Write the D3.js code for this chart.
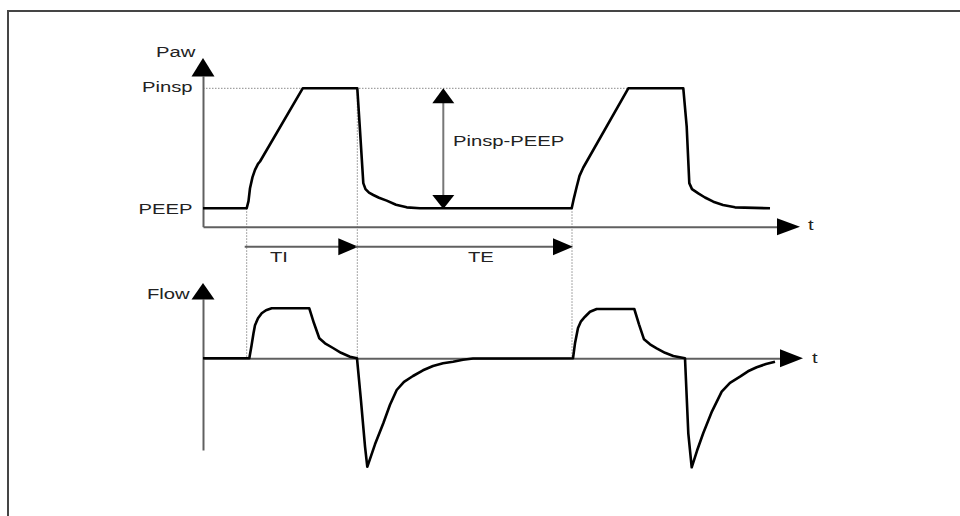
<!DOCTYPE html>
<html>
<head>
<meta charset="utf-8">
<script src="https://cdn.jsdelivr.net/npm/d3@7"></script>
<style>
  html, body { margin: 0; padding: 0; background: #fff; }
  svg { display: block; }
  text { font-family: "Liberation Sans", Arial, sans-serif; font-size: 15px; fill: #222; }
</style>
</head>
<body>
<svg id="chart" width="960" height="516"></svg>
<script>
// ---------------- data (time in arbitrary units, pressure 0=PEEP 1=Pinsp, flow 1=peak insp) ----
const pawTime  = [0, 43.7, 45.5, 47, 49.5, 52, 55, 57, 99.7, 154.3, 157, 160.3, 162.5, 166, 170.3, 176, 183.7, 193, 203.7, 217,
                  368.7, 370.5, 373.7, 376.5, 380.3, 425.3, 480.3, 483.7, 486.3, 489, 495.3, 502, 510.3, 520, 532, 567];
const pawValue = [0, 0, 0.06, 0.167, 0.26, 0.32, 0.37, 0.39, 1, 1, 0.65, 0.21, 0.16, 0.13, 0.111, 0.088, 0.064, 0.03, 0.008, 0,
                  0, 0.07, 0.18, 0.27, 0.34, 1, 1, 0.68, 0.21, 0.16, 0.125, 0.09, 0.055, 0.028, 0.008, 0];

const flowTime  = [0, 46.3, 48.5, 50.5, 52, 55, 58.7, 63, 68.7, 106.3, 111, 116.3, 122, 130, 138, 147, 154,
                   158, 162, 164.3, 172, 180.3, 187, 193.7, 201, 210, 220, 230, 240, 250, 260, 270, 370,
                   372, 375, 378, 382, 387, 393.7, 431.3, 436, 441, 447, 453.7, 462, 470.3, 482,
                   485.3, 488.7, 494, 500.3, 509, 518.7, 527, 537, 545, 553.7, 563, 572];
const flowValue = [0, 0, 0.25, 0.5, 0.66, 0.8, 0.9, 0.96, 1, 1, 0.7, 0.4, 0.3, 0.206, 0.11, 0.032, 0,
                   -0.85, -1.76, -2.17, -1.72, -1.3, -0.93, -0.634, -0.47, -0.354, -0.24, -0.154, -0.1, -0.068, -0.03, -0.004, 0,
                   0.3, 0.606, 0.74, 0.832, 0.93, 0.986, 0.986, 0.68, 0.38, 0.28, 0.2, 0.11, 0.046, 0,
                   -1.5, -2.18, -1.85, -1.494, -1.06, -0.668, -0.49, -0.368, -0.26, -0.18, -0.115, -0.068];

const pawTickValues = [0, 1];
const pawTickLabels = ["PEEP", "Pinsp"];
const phaseNames  = ["TI", "TE"];
const phaseStart  = [43.7, 154.3];
const phaseEnd    = [154.3, 369];

// ---------------- layout ----------------
const svg = d3.select("#chart");
const SX = 1.35; // horizontal stretch of the original typography

const x  = d3.scaleLinear().domain([0, 600]).range([203, 803]);
const yP = d3.scaleLinear().domain([0, 1]).range([208.3, 88.3]);
const yF = d3.scaleLinear().domain([0, 1]).range([358.3, 308.3]);

const axisColor = "#606060";

// frame
svg.append("rect").attr("x", 8).attr("y", 11).attr("width", 1000).attr("height", 600)
  .attr("fill", "none").attr("stroke", "#454545").attr("stroke-width", 2);

function stretch(sel, anchor) {
  sel.each(function () {
    const t = d3.select(this);
    const xv = +t.attr("x") || 0;
    t.attr("x", xv / SX).attr("transform", `scale(${SX},1)`).attr("text-anchor", anchor);
  });
}
function label(txt, px, py, anchor) {
  svg.append("text").attr("transform", `translate(${px},${py}) scale(${SX},1)`)
    .attr("text-anchor", anchor || "start").text(txt);
}
function tri(tip, dir, len, half, color) {
  const [tx, ty] = tip;
  let pts;
  if (dir === "up")    pts = [[tx, ty], [tx - half, ty + len], [tx + half, ty + len]];
  if (dir === "down")  pts = [[tx, ty], [tx - half, ty - len], [tx + half, ty - len]];
  if (dir === "right") pts = [[tx, ty], [tx - len, ty - half], [tx - len, ty + half]];
  svg.append("path").attr("d", "M" + pts.map(p => p.join(",")).join("L") + "Z")
    .attr("fill", color || "#000");
}

// ---------------- guide (dotted) lines ----------------
const dotted = g => g.attr("stroke", "#8a8a8a").attr("stroke-width", 1).attr("stroke-dasharray", "1.5,1.5").attr("fill", "none");
svg.append("line").attr("x1", x(0)).attr("x2", x(425.3)).attr("y1", yP(1)).attr("y2", yP(1)).call(dotted);
[[43.7, 0], [154.3, 1], [369, 0]].forEach(([t, v]) => {
  svg.append("line").attr("x1", x(t)).attr("x2", x(t)).attr("y1", yP(v)).attr("y2", yF(0)).call(dotted);
});

// ---------------- Paw axes ----------------
const yPAxisScale = yP.copy().domain([yP.invert(226.7), yP.invert(76)]).range([226.7, 76]);
const gPawY = svg.append("g").attr("transform", `translate(${x(0)},0)`)
  .call(d3.axisLeft(yPAxisScale).tickValues(pawTickValues)
    .tickFormat((d, i) => pawTickLabels[i]).tickSize(0).tickSizeOuter(0).tickPadding(10.5));
gPawY.select(".domain").attr("stroke", axisColor).attr("stroke-width", 2);
gPawY.selectAll("text").attr("font-size", null).attr("font-family", null).attr("fill", "#222")
  .attr("dy", (d) => d === 1 ? "0.18em" : "0.32em").call(stretch, "end");
tri([x(0), 58], "up", 18.5, 11.5);
label("Paw", 156, 57);

const xPAxisScale = x.copy().domain([0, x.invert(777)]).range([203, 777]);
const gPawX = svg.append("g").attr("transform", `translate(0,226.7)`)
  .call(d3.axisBottom(xPAxisScale).tickValues([]).tickSizeOuter(0));
gPawX.select(".domain").attr("stroke", axisColor).attr("stroke-width", 2);
tri([800, 226.7], "right", 23, 8.5);
label("t", 808, 230);

// ---------------- Flow axes ----------------
const yFAxisScale = yF.copy().domain([yF.invert(450), yF.invert(299)]).range([450, 299]);
const gFlowY = svg.append("g").attr("transform", `translate(${x(0)},0)`)
  .call(d3.axisLeft(yFAxisScale).tickValues([]).tickSizeOuter(0));
gFlowY.select(".domain").attr("stroke", axisColor).attr("stroke-width", 2);
tri([x(0), 283], "up", 16.5, 11.5);
label("Flow", 147, 299);

const xFAxisScale = x.copy().domain([0, x.invert(780)]).range([203, 780]);
const gFlowX = svg.append("g").attr("transform", `translate(0,${yF(0)})`)
  .call(d3.axisBottom(xFAxisScale).tickValues([]).tickSizeOuter(0));
gFlowX.select(".domain").attr("stroke", axisColor).attr("stroke-width", 2);
tri([803, yF(0)], "right", 23, 9);
label("t", 812, 363);

// ---------------- TI / TE arrows ----------------
phaseNames.forEach((name, i) => {
  const x0 = x(phaseStart[i]) - 2, x1 = x(phaseEnd[i]) + 1;
  svg.append("line").attr("x1", x0).attr("x2", x1 - 18).attr("y1", 246.7).attr("y2", 246.7)
    .attr("stroke", axisColor).attr("stroke-width", 2);
  tri([x1, 246.7], "right", 20, 8.5);
});
label(phaseNames[0], 270, 262);
label(phaseNames[1], 468, 262);

// ---------------- Pinsp-PEEP arrow ----------------
const ax = 443.3;
svg.append("line").attr("x1", ax).attr("x2", ax).attr("y1", yP(1) + 12).attr("y2", yP(0) - 12)
  .attr("stroke", "#777").attr("stroke-width", 2);
tri([ax, yP(1)], "up", 15, 11);
tri([ax, yP(0) + 0.7], "down", 14, 11);
label("Pinsp-PEEP", 453, 146);

// ---------------- curves ----------------
const pawLine = d3.line().x((d, i) => x(pawTime[i])).y((d, i) => yP(pawValue[i]));
svg.append("path").attr("d", pawLine(pawTime)).attr("fill", "none")
  .attr("stroke", "#000").attr("stroke-width", 2.6).attr("stroke-linejoin", "round");

const flowLine = d3.line().x((d, i) => x(flowTime[i])).y((d, i) => yF(flowValue[i]));
svg.append("path").attr("d", flowLine(flowTime)).attr("fill", "none")
  .attr("stroke", "#000").attr("stroke-width", 2.6).attr("stroke-linejoin", "round");
</script>
</body>
</html>
